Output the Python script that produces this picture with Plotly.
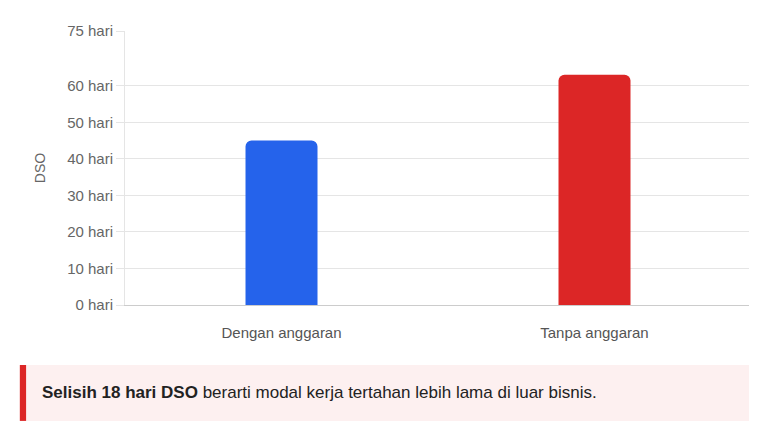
import plotly.graph_objects as go

kategori = ['Dengan anggaran', 'Tanpa anggaran']
dso = [45, 63]
warna = ['#2563eb', '#dc2626']
tick_vals = [0, 10, 20, 30, 40, 50, 60, 75]
tick_text = [f'{v} hari' for v in tick_vals]

fig = go.Figure(go.Bar(
    x=kategori, y=dso, marker=dict(color=warna, cornerradius=6, line_width=0),
    width=0.23, hoverinfo='skip'
))

fig.update_layout(
    width=757, height=423, margin=dict(l=117, r=14, t=23, b=126),
    paper_bgcolor='white', plot_bgcolor='white', showlegend=False,
    font=dict(family='Liberation Sans, Arial, sans-serif', size=15, color='#666'),
    xaxis=dict(showgrid=False, showline=True, linecolor='#cccccc', ticks='outside', ticklen=14,
               tickcolor='rgba(0,0,0,0)', tickfont=dict(size=15, color='#555')),
    yaxis=dict(range=[0, 75], tickvals=tick_vals, ticktext=tick_text, gridcolor='#e5e5e5',
               showline=True, linecolor='#e5e5e5', zeroline=False, ticklen=8, ticks='outside',
               tickcolor='#e5e5e5', tickfont=dict(size=15, color='#666'),
               title=dict(text='DSO', font=dict(size=14, color='#666'), standoff=18)),
)

# kotak keterangan di bawah grafik
fig.add_shape(type='rect', xref='paper', yref='paper', x0=-0.168, x1=1.0, y0=-0.423, y1=-0.219,
              fillcolor='#fdf0f0', line_width=0, layer='below')
fig.add_shape(type='rect', xref='paper', yref='paper', x0=-0.168, x1=-0.158, y0=-0.423, y1=-0.219,
              fillcolor='#dc2626', line_width=0)
fig.add_annotation(xref='paper', yref='paper', x=-0.135, y=-0.321, xanchor='left', yanchor='middle',
                   showarrow=False, font=dict(size=17, color='#222'),
                   text='<b>Selisih 18 hari DSO</b> berarti modal kerja tertahan lebih lama di luar bisnis.')

fig.write_html('out.html')
